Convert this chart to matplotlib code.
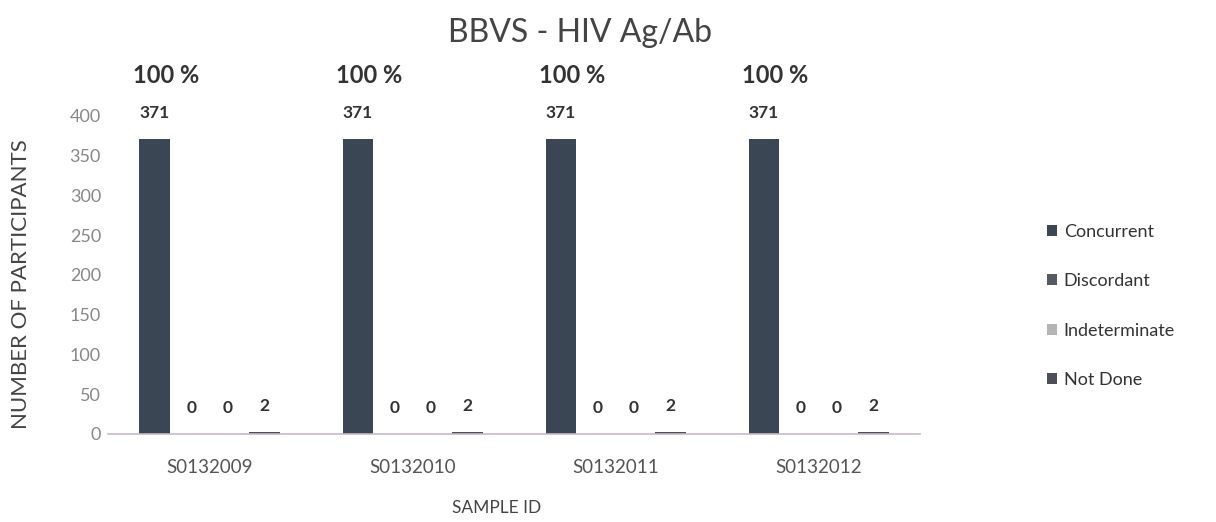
import matplotlib
matplotlib.use("Agg")
import matplotlib.pyplot as plt
import numpy as np

plt.rcParams['font.family'] = ['Lato', 'DejaVu Sans']

samples = ["S0132009", "S0132010", "S0132011", "S0132012"]
series = ["Concurrent", "Discordant", "Indeterminate", "Not Done"]
concurrent = [371, 371, 371, 371]
discordant = [0, 0, 0, 0]
indeterminate = [0, 0, 0, 0]
not_done = [2, 2, 2, 2]
pct_labels = ["100 %", "100 %", "100 %", "100 %"]
yticks = [0, 50, 100, 150, 200, 250, 300, 350, 400]

values = [concurrent, discordant, indeterminate, not_done]
colors = ["#3a4653", "#555a62", "#b4b4b4", "#4a4f5a"]

fig = plt.figure(figsize=(12.16, 5.22), dpi=100)
ax = fig.add_axes([0.0888, 0.1686, 0.668, 0.6092])

x = np.arange(len(samples))
width = 0.15
offsets = [-0.27, -0.09, 0.09, 0.27]
for vals, off, col, name in zip(values, offsets, colors, series):
    bars = ax.bar(x + off, vals, width, color=col, label=name, zorder=2)
    for b, v in zip(bars, vals):
        ax.annotate(str(v), (b.get_x() + b.get_width() / 2, v),
                    xytext=(0, 19), textcoords="offset points",
                    ha="center", va="center", fontsize=12.5, fontweight="bold",
                    color="#333333", annotation_clip=False)

for xi, v, p in zip(x, concurrent, pct_labels):
    ax.annotate(p, (xi + offsets[0], v), xytext=(8, 46), textcoords="offset points",
                ha="center", va="center", fontsize=17, fontweight="bold",
                color="#333333", annotation_clip=False)

ax.set_xlim(-0.5, 3.5)
ax.set_ylim(0, 400)
ax.set_yticks(yticks)
ax.set_xticks(x)
ax.set_xticklabels(samples)
ax.tick_params(axis="x", length=0, labelsize=13.5, colors="#555555", pad=18)
ax.tick_params(axis="y", length=0, colors="#888888", labelsize=13, pad=5)
for s in ["top", "right", "left"]:
    ax.spines[s].set_visible(False)
ax.spines["bottom"].set_color("#c8b8c8")
ax.spines["bottom"].set_linewidth(1.2)

ax.set_ylabel("NUMBER OF PARTICIPANTS", fontsize=16, color="#444444")
ax.yaxis.set_label_coords(-0.095, 0.47)
fig.text(0.408, 0.027, "SAMPLE ID", fontsize=12.5, color="#444444", ha="center", va="center")
fig.text(0.477, 0.937, "BBVS - HIV Ag/Ab", fontsize=23, color="#444444", ha="center", va="center")

leg = fig.legend(loc="center left", bbox_to_anchor=(0.848, 0.414), frameon=False,
                 fontsize=13, handlelength=0.55, handleheight=0.55, handletextpad=0.35,
                 labelspacing=1.85, labelcolor="#333333")

fig.savefig("out.png", dpi=100)
